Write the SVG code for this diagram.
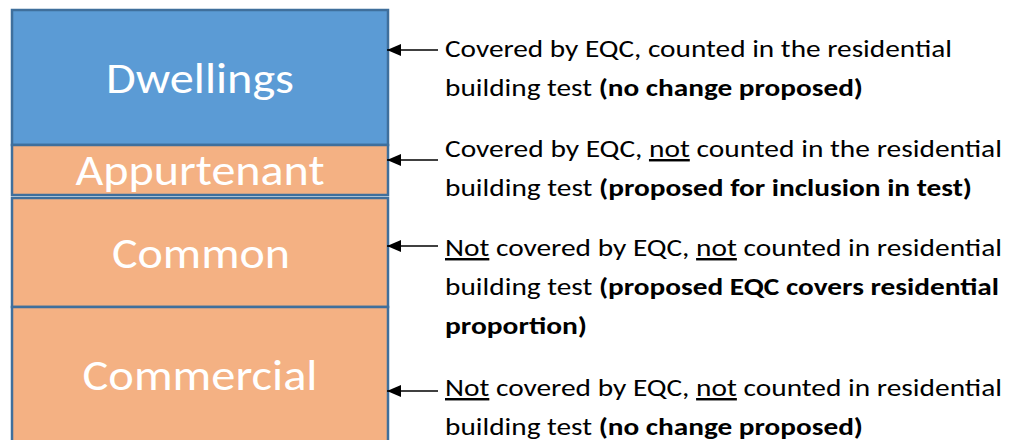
<svg xmlns="http://www.w3.org/2000/svg" width="1015" height="440" viewBox="0 0 1015 440">
  <style>
    .box-blue { fill: #5B9BD5; stroke: #3F6F9C; stroke-width: 2.5; }
    .box-orange { fill: #F4B183; stroke: #3F6F9C; stroke-width: 2.5; }
    .label { font-family: Carlito, Lato, "Open Sans", sans-serif; font-size: 44px; fill: #FFFFFF; text-anchor: middle; }
    .note { font-family: Carlito, Lato, "Open Sans", sans-serif; font-size: 24.5px; fill: #000000; }
    .b { font-weight: bold; }
    .u { text-decoration: underline; }
    .conn { stroke: #000000; stroke-width: 1.5; fill: none; marker-end: url(#head); }
  </style>
  <defs>
    <marker id="head" markerUnits="userSpaceOnUse" markerWidth="15" markerHeight="13" refX="14" refY="6.5" orient="auto">
      <path d="M0,0.5 L14,6.5 L0,12.5 z" fill="#000000"/>
    </marker>
  </defs>
  <rect width="1015" height="440" fill="#FFFFFF"/>

  <!-- stacked building areas -->
  <g id="dwellings">
    <rect class="box-blue" x="12" y="10" width="376" height="135"/>
    <text class="label" x="200" y="93" textLength="188" lengthAdjust="spacingAndGlyphs">Dwellings</text>
  </g>
  <g id="appurtenant">
    <rect class="box-orange" x="12" y="145" width="376" height="50"/>
    <text class="label" x="200" y="185" textLength="249" lengthAdjust="spacingAndGlyphs">Appurtenant</text>
  </g>
  <g id="common">
    <rect class="box-orange" x="12" y="198" width="376" height="109"/>
    <text class="label" x="201" y="268" textLength="178" lengthAdjust="spacingAndGlyphs">Common</text>
  </g>
  <g id="commercial">
    <rect class="box-orange" x="12" y="307" width="376" height="145"/>
    <text class="label" x="200" y="390" textLength="235" lengthAdjust="spacingAndGlyphs">Commercial</text>
  </g>

  <!-- pointers from each note to its area -->
  <g id="connectors">
    <line class="conn" x1="438" y1="50" x2="387" y2="50"/>
    <line class="conn" x1="438" y1="160" x2="387" y2="160"/>
    <line class="conn" x1="438" y1="246" x2="387" y2="246"/>
    <line class="conn" x1="438" y1="391" x2="387" y2="391"/>
  </g>

  <!-- notes -->
  <g id="note-dwellings">
    <text class="note" x="445" y="57" textLength="507" lengthAdjust="spacingAndGlyphs">Covered by EQC, counted in the residential</text>
    <text class="note" x="445" y="96" textLength="418" lengthAdjust="spacingAndGlyphs">building test <tspan class="b">(no change proposed)</tspan></text>
  </g>
  <g id="note-appurtenant">
    <text class="note" x="445" y="157" textLength="557" lengthAdjust="spacingAndGlyphs">Covered by EQC, <tspan class="u">not</tspan> counted in the residential</text>
    <text class="note" x="445" y="196" textLength="527" lengthAdjust="spacingAndGlyphs">building test <tspan class="b">(proposed for inclusion in test)</tspan></text>
  </g>
  <g id="note-common">
    <text class="note" x="445" y="256" textLength="557" lengthAdjust="spacingAndGlyphs"><tspan class="u">Not</tspan> covered by EQC, <tspan class="u">not</tspan> counted in residential</text>
    <text class="note" x="445" y="295" textLength="554" lengthAdjust="spacingAndGlyphs">building test <tspan class="b">(proposed EQC covers residential</tspan></text>
    <text class="note b" x="445" y="334" textLength="142" lengthAdjust="spacingAndGlyphs">proportion)</text>
  </g>
  <g id="note-commercial">
    <text class="note" x="445" y="396" textLength="557" lengthAdjust="spacingAndGlyphs"><tspan class="u">Not</tspan> covered by EQC, <tspan class="u">not</tspan> counted in residential</text>
    <text class="note" x="445" y="435" textLength="418" lengthAdjust="spacingAndGlyphs">building test <tspan class="b">(no change proposed)</tspan></text>
  </g>
</svg>
